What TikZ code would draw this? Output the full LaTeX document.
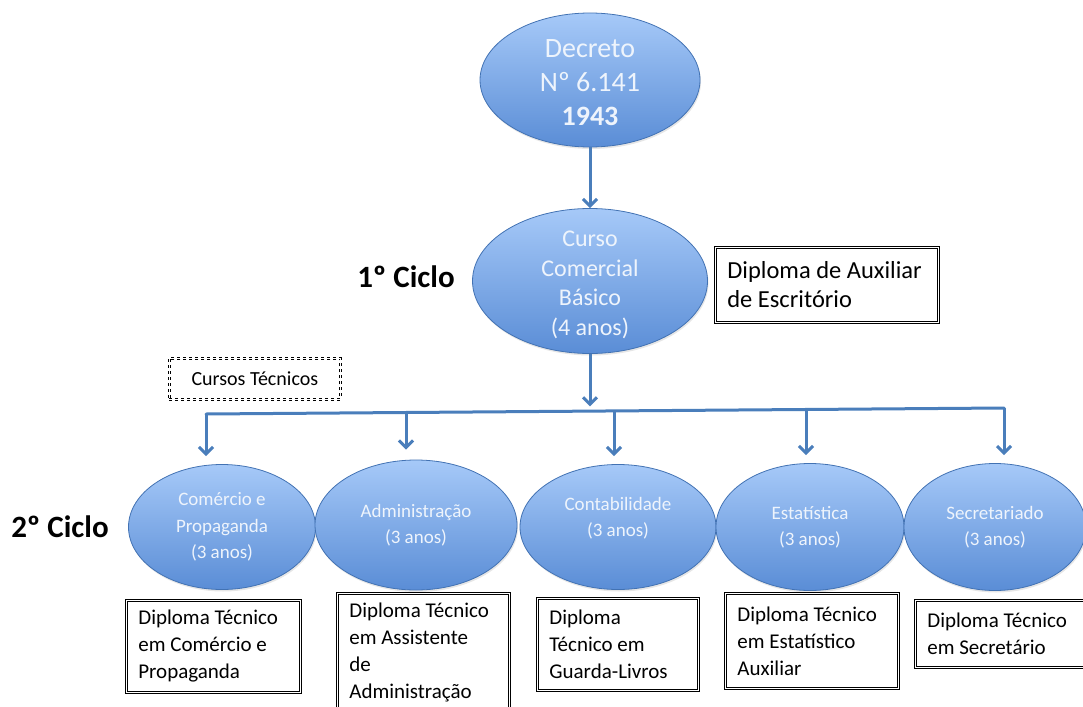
\documentclass[tikz,border=0pt]{standalone}
\usepackage{fontspec}
\setmainfont{Carlito}
\usetikzlibrary{shapes.geometric,arrows.meta,shadows}
\definecolor{conn}{HTML}{4A7EBB}
\definecolor{etop}{HTML}{A6C9F8}
\definecolor{ebot}{HTML}{5A8DD6}
\definecolor{eborder}{HTML}{4272B3}
\definecolor{etext}{HTML}{EEF4FC}
\begin{document}
\begin{tikzpicture}[x=1pt,y=-1pt,
  ell/.style={ellipse, draw=eborder, line width=0.8pt, top color=etop, bottom color=ebot,
    inner sep=0pt, align=center, text=etext,
    drop shadow={opacity=0.2, shadow xshift=1pt, shadow yshift=-2pt}},
  elltxt/.style={font=\fontsize{19}{26.5}\selectfont},
  dip/.style={draw=black, double=white, double distance=1.6pt, line width=0.7pt,
    fill=white, align=flush left, inner xsep=12pt, inner ysep=0pt, anchor=north west,
    font=\fontsize{21}{27}\selectfont},
  cyc/.style={font=\fontsize{31}{34}\selectfont\bfseries},
  conn/.style={draw=conn, line width=3pt},
  arr/.style={conn, -{Straight Barb[length=7pt,width=14pt]}}
]
\useasboundingbox (0,0) rectangle (1083,706);

% top ellipses
\node[ell, minimum width=220pt, minimum height=134pt,
  label={[font=\fontsize{28}{34}\selectfont, text=etext, align=center, yshift=-3pt]center:Decreto\\Nº 6.141\\\textbf{1943}}] (dec) at (590,80) {};
\node[ell, minimum width=235pt, minimum height=145pt,
  label={[font=\fontsize{24}{29.5}\selectfont, text=etext, align=center, yshift=-4pt]center:Curso\\Comercial\\Básico\\(4 anos)}] (cur) at (590,281) {};

\node[cyc] (c1) at (406,277) {1º Ciclo};
\node[dip, minimum width=223pt, minimum height=75pt, text width=199pt, font=\fontsize{24.5}{29}\selectfont] (dipa) at (715,247)
  {Diploma de Auxiliar\\de Escritório};

% cursos tecnicos
\node[draw=black, dashed, double=white, double distance=1.4pt, line width=0.7pt,
  minimum width=171pt, minimum height=41pt, anchor=north west, font=\fontsize{20}{22}\selectfont] (ct) at (169,358)
  {Cursos Técnicos};

% bar
\coordinate (bl) at (206,414);
\coordinate (br) at (1004,408);
\coordinate (bm) at (590,410.4);
\coordinate (b2) at (406,411.6);
\coordinate (b3) at (614,410.2);
\coordinate (b4) at (806,409.2);

% second cycle ellipses
\node[ell, elltxt, minimum width=187pt, minimum height=125pt] (e1) at (222,527)
  {Comércio e\\Propaganda\\(3 anos)};
\node[ell, elltxt, minimum width=202pt, minimum height=130pt] (e2) at (416,525)
  {Administração\\(3 anos)};
\node[ell, minimum width=196pt, minimum height=125pt,
  label={[elltxt, text=etext, align=center, yshift=9pt]center:Contabilidade\\(3 anos)}] (e3) at (618,527) {};
\node[ell, elltxt, minimum width=188pt, minimum height=127pt] (e4) at (810,527)
  {Estatística\\(3 anos)};
\node[ell, elltxt, minimum width=182pt, minimum height=127pt] (e5) at (995,527)
  {Secretariado\\(3 anos)};

\node[cyc] (c2) at (60,527) {2º Ciclo};

% diplomas
\node[dip, minimum width=174pt, minimum height=92pt, text width=150pt] (d1) at (126,600)
  {Diploma Técnico\\em Comércio e\\Propaganda};
\node[dip, minimum width=172pt, minimum height=119pt, text width=148pt] (d2) at (337,593)
  {Diploma Técnico\\em Assistente\\de\\Administração};
\node[dip, minimum width=161pt, minimum height=92pt, text width=137pt] (d3) at (537,598)
  {Diploma\\Técnico em\\Guarda-Livros};
\node[dip, minimum width=173pt, minimum height=95pt, text width=149pt] (d4) at (725,593)
  {Diploma Técnico\\em Estatístico\\Auxiliar};
\node[dip, minimum width=180pt, minimum height=67pt, text width=156pt] (d5) at (915,600)
  {Diploma Técnico\\em Secretário};

% connectors
\draw[arr] (dec.south) -- (cur.north);
\draw[arr, shorten >=4pt] (cur.south) -- (bm);
\draw[conn, line cap=round] (bl) -- (br);
\draw[arr, shorten >=8pt] (bl) -- (bl |- e1.north);
\draw[arr, shorten >=10pt] (b2) -- (b2 |- e2.north);
\draw[arr, shorten >=8pt] (b3) -- (b3 |- e3.north);
\draw[arr, shorten >=8pt] (b4) -- (b4 |- e4.north);
\draw[arr, shorten >=8pt] (br) -- (br |- e5.north);
\end{tikzpicture}
\end{document}
